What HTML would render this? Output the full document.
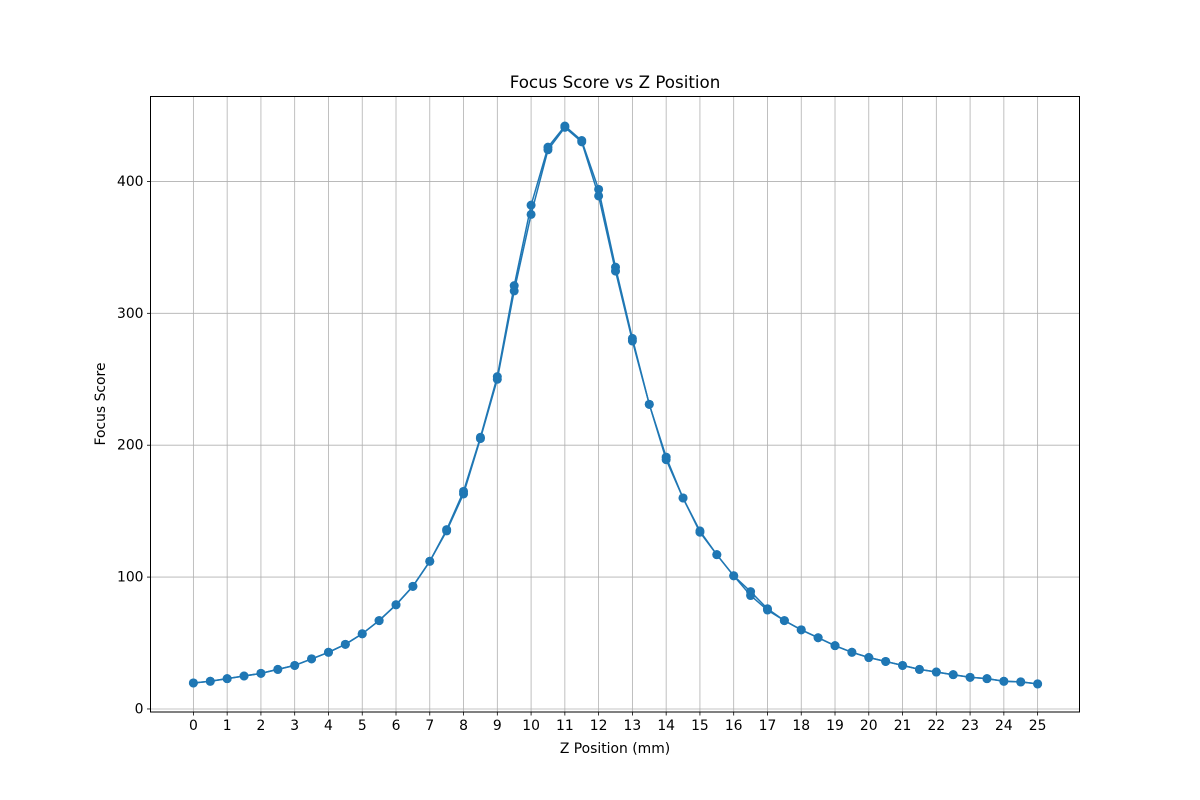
<!DOCTYPE html>
<html><head><meta charset="utf-8">
<style>
body{margin:0;background:#fff;}
svg{display:block;font-family:"DejaVu Sans","Liberation Sans",sans-serif;}
</style></head>
<body>
<svg id="chart" width="1200" height="800" xmlns="http://www.w3.org/2000/svg">
<rect width="1200" height="800" fill="#fff"/>
<g id="grid"></g>
<g id="ticks"></g>
<g id="series"></g>
<rect x="150.5" y="96.5" width="929" height="615.5" fill="none" stroke="#000" stroke-width="1"/>
<text x="615" y="88" text-anchor="middle" font-size="16.7">Focus Score vs Z Position</text>
<text x="615" y="753" text-anchor="middle" font-size="13.9">Z Position (mm)</text>
<text x="105" y="404" text-anchor="middle" font-size="13.9" transform="rotate(-90 105 404)">Focus Score</text>
</svg>
<script>
const zPositions=[0,0.5,1,1.5,2,2.5,3,3.5,4,4.5,5,5.5,6,6.5,7,7.5,8,8.5,9,9.5,10,10.5,11,11.5,12,12.5,13,13.5,14,14.5,15,15.5,16,16.5,17,17.5,18,18.5,19,19.5,20,20.5,21,21.5,22,22.5,23,23.5,24,24.5,25];
const sweepA=[19.7,21,23,25,27,30,33,38,43,49,57,67,79,93,112,136,165,206,252,321,382,426,442,431,394,335,281,231,191,160,135,117,101,89,76,67,60,54,48,43,39,36,33,30,28,26,24,23,21,20.5,19];
const sweepB=[19.7,21,23,25,27,30,33,38,43,49,57,67,79,93,112,135,163,205,250,317,375,424,441,430,389,332,279,231,189,160,134,117,101,86,75,67,60,54,48,43,39,36,33,30,28,26,24,23,21,20.5,19];
const xTicks=[0,1,2,3,4,5,6,7,8,9,10,11,12,13,14,15,16,17,18,19,20,21,22,23,24,25];
const yTicks=[0,100,200,300,400];
const NS="http://www.w3.org/2000/svg";
const L=150.5,R=1079.5,T=96.5,B=712;
const xMin=-1.27,xMax=26.24,yMin=-2.3,yMax=464.4;
const sx=v=>L+(v-xMin)/(xMax-xMin)*(R-L);
const sy=v=>B-(v-yMin)/(yMax-yMin)*(B-T);
function mk(tag,attrs,parent){const e=document.createElementNS(NS,tag);for(const k in attrs)e.setAttribute(k,attrs[k]);parent.appendChild(e);return e;}
const grid=document.getElementById('grid'),ticks=document.getElementById('ticks'),series=document.getElementById('series');
xTicks.forEach(t=>{const x=sx(t);
 const g=mk('line',{x1:x,x2:x,y1:T,y2:B,stroke:'#b0b0b0','stroke-width':0.8},grid);
 
 
 mk('line',{x1:x,x2:x,y1:B,y2:B+3.5,stroke:'#000','stroke-width':0.8},ticks);
 const tx=mk('text',{x:x,y:B+18,'text-anchor':'middle','font-size':13.9},ticks);tx.textContent=t;
 
 
});
yTicks.forEach(t=>{const y=sy(t);
 const g=mk('line',{x1:L,x2:R,y1:y,y2:y,stroke:'#b0b0b0','stroke-width':0.8},grid);
 
 
 mk('line',{x1:L-3.5,x2:L,y1:y,y2:y,stroke:'#000','stroke-width':0.8},ticks);
 const tx=mk('text',{x:L-7,y:y+4.5,'text-anchor':'end','font-size':13.9},ticks);tx.textContent=t;
 
 
});
[sweepA,sweepB].forEach((s,i)=>{
 const d=s.map((v,j)=>(j?'L':'M')+sx(zPositions[j]).toFixed(1)+','+sy(v).toFixed(1)).join('');
 const p=mk('path',{d:d,fill:'none',stroke:'#1f77b4','stroke-width':1.5},series);
 
 
 s.forEach((v,j)=>{
  const c=mk('circle',{cx:sx(zPositions[j]),cy:sy(v),r:4.5,fill:'#1f77b4'},series);
  
  
 });
});
</script>
</body></html>
